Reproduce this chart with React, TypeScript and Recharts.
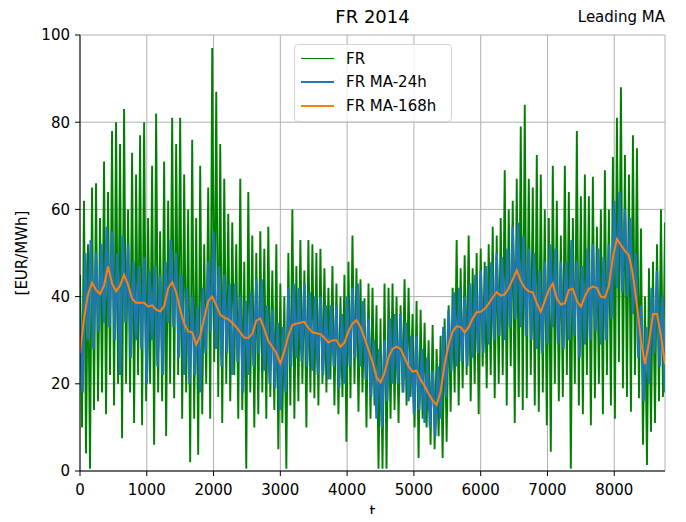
import React from 'react';
import { LineChart, Line, XAxis, YAxis, CartesianGrid } from 'recharts';

const FR_STEP = 30;
const MA24_STEP = 40;
const MA168_STEP = 60;

// FR hourly price (sampled), EUR/MWh
const frValues = [
  45, 10, 62, 4, 52, 0.5, 65, 14, 66, 16,
  58, 18, 71, 13, 64, 22, 78, 15, 80, 20,
  75, 7.5, 83, 20, 60, 18, 73, 11, 68, 22,
  77, 10.5, 80, 16, 58, 20, 70, 6, 82, 18,
  55, 16, 71, 8, 62, 20, 81, 16.7, 75, 22,
  81, 12, 68, 18, 60, 2, 76, 12, 58, 3.7,
  70, 13, 52, 20, 65, 12, 97, 25, 87, 17,
  75, 11, 67, 20, 59, 16, 57, 22, 52, 12,
  67, 14, 48, 0.5, 64, 18, 54, 10, 50, 13,
  55, 18, 51, 12, 56, 17, 46, 14, 52, 5,
  43, 11, 40, 0.5, 50, 15, 60, 12, 47, 16,
  53, 20, 46, 10, 53, 18, 52, 16.7, 50, 15,
  51, 20, 46.5, 18, 42, 21, 47, 15, 43, 13,
  40, 17, 45, 6.7, 48, 16.7, 54, 20, 46.5, 13.6,
  44, 18, 39.6, 10, 43, 12, 42, 15, 38, 0.5,
  35, 0.5, 43, 0.5, 42, 12, 43, 14, 40, 11,
  38, 18, 44, 15, 42, 17, 36, 10, 39, 3,
  37, 12, 34, 10, 30, 6, 33.5, 5, 28, 8,
  31, 3, 35, 6.7, 38, 13.6, 42, 18, 53, 15,
  46.5, 19, 49.5, 22, 54, 16, 46.5, 20, 50, 13,
  51, 24, 48, 19, 52, 22, 56, 16.7, 54, 20,
  58, 22, 69, 15, 60, 24, 62, 11, 67, 17,
  79, 14, 84, 16.7, 67, 22, 65, 15, 72.5, 13.6,
  68, 18, 60, 10.5, 58, 4.4, 70, 20, 62, 16,
  54, 17, 70, 22, 64, 0.5, 58, 20, 78, 15,
  63, 13, 68, 22, 63, 10.5, 67.5, 16.7, 56, 20,
  60, 13, 69, 22, 60, 15, 72, 12, 81, 25,
  88, 19, 72.5, 17, 68, 13.6, 77, 22, 74, 16.7,
  55.6, 6, 40, 1.4, 46.5, 9, 48, 11, 52, 16,
  60, 17, 57,
];

// FR 24h moving average (sampled)
const ma24Values = [
  36, 18, 50, 30, 53, 28, 50, 32, 52, 34,
  56, 33, 55, 30, 50, 22, 54, 34, 52, 26,
  48, 30, 47, 28, 49, 20, 46, 30, 47, 24,
  45, 22, 48, 34, 53, 33, 50, 26, 45, 22,
  42, 20, 40, 22, 38, 18, 42, 27, 48, 32,
  55, 28, 47, 24, 45, 27, 43, 22, 43, 25,
  40, 18, 39, 22, 41, 24, 44, 27, 44, 23,
  38, 20, 37, 19, 34, 14, 33, 18, 42, 24,
  43, 26, 42, 25, 43, 24, 41, 23, 40, 22,
  40, 22, 38, 21, 38, 24, 38, 19, 36, 20,
  40, 24, 42, 26, 43, 24, 39, 21, 35, 17,
  30, 12, 28, 10, 30, 16, 35, 20, 36, 20,
  36, 18, 34, 16, 31, 13, 31, 14, 28, 11,
  26, 10, 23, 8, 24, 12, 33, 17, 37, 23,
  41, 24, 42, 25, 40, 24, 43, 26, 45, 27,
  46, 27, 47, 29, 48, 30, 50, 31, 49, 30,
  51, 33, 56, 35, 57, 33, 54, 31, 51, 30,
  50, 28, 46, 27, 48, 29, 52, 33, 51, 29,
  48, 28, 48, 30, 53, 31, 48, 26, 47, 29,
  51, 30, 52, 32, 51, 29, 49, 30, 52, 35,
  62, 42, 64, 41, 60, 40, 58, 36, 50, 26,
  38, 16, 33, 20, 42, 27, 46, 24, 40, 18,
];

// FR 168h moving average (sampled)
const ma168Values = [
  27, 35, 40.5, 43.2, 41.5, 40.6, 42.5, 46.9, 43, 41.2,
  42.5, 45, 42.7, 39.5, 38.6, 38.6, 38.6, 37.7, 38, 37,
  36.6, 37.8, 41.9, 43.3, 41, 37, 33.8, 32, 31.8, 29,
  31, 35, 39, 40, 38, 35.8, 35.2, 34.8, 34, 33,
  31.8, 30.6, 30.5, 31.5, 34.5, 35, 32.5, 29.8, 28.5, 27,
  24.7, 27.5, 31, 33.5, 33.8, 34, 34.2, 32.8, 31.8, 31.6,
  31.4, 30.5, 29.5, 30, 30, 28.5, 29.5, 32, 33.8, 34.6,
  33, 30.5, 27.8, 25, 21.5, 20.3, 22.5, 26, 28, 28.5,
  28, 26, 24, 22.8, 23, 20.9, 19.5, 17.8, 16.2, 15.2,
  18.2, 24.5, 29, 32, 33.2, 33, 31.8, 33, 35, 36.4,
  36.5, 37.2, 38.4, 39.8, 41, 40.2, 40.5, 41.9, 44, 46,
  43.6, 42, 41.2, 41, 38.5, 36.5, 39, 41.5, 43, 39.5,
  38.2, 38.5, 41.5, 41.8, 39, 37.7, 40, 41.8, 42.3, 42,
  40, 39.8, 42.5, 49, 53.2, 51.8, 50.5, 49.5, 45, 38,
  30, 24.5, 29.5, 36, 36, 31, 24.5,
];

const xTicks = [0, 1000, 2000, 3000, 4000, 5000, 6000, 7000, 8000];
const yTicks = [0, 20, 40, 60, 80, 100];
const xDomain = [0, 8760];
const yDomain = [0, 100];
const titleText = 'FR 2014';
const rightTitleText = 'Leading MA';
const yLabelText = '[EUR/MWh]';
const xLabelText = 't';
const seriesNames = ['FR', 'FR MA-24h', 'FR MA-168h'];
const seriesColors = ['#008000', '#1f77b4', '#ff7f0e'];

const toSeries = (vals: number[], step: number) => vals.map((v, i) => ({ t: i * step, v }));

const frData = toSeries(frValues, FR_STEP);
const ma24Data = toSeries(ma24Values, MA24_STEP);
const ma168Data = toSeries(ma168Values, MA168_STEP);

const FONT = '"DejaVu Sans", sans-serif';

export default function App() {
  const tickStyle = { fill: '#000', fontSize: 15, fontFamily: FONT };
  return (
    <div style={{ position: 'relative', width: 670, height: 506, fontFamily: FONT, color: '#000' }}>
      <LineChart width={670} height={506} margin={{ top: 27, right: 13, bottom: 0, left: 0 }}>
        <CartesianGrid xAxisId="b" yAxisId="l" stroke="#b0b0b0" strokeWidth={1} />
        <XAxis
          xAxisId="b"
          dataKey="t"
          type="number"
          domain={xDomain}
          ticks={xTicks}
          allowDataOverflow
          height={43}
          tickSize={5}
          tickMargin={8}
          stroke="#000"
          tick={tickStyle}
          interval={0}
        />
        <XAxis
          xAxisId="top"
          orientation="top"
          dataKey="t"
          type="number"
          domain={xDomain}
          allowDataOverflow
          height={0}
          tick={false}
          tickLine={false}
          stroke="#000"
        />
        <YAxis
          yAxisId="l"
          type="number"
          domain={yDomain}
          ticks={yTicks}
          allowDataOverflow
          width={72}
          tickSize={5}
          tickMargin={5}
          stroke="#000"
          tick={tickStyle}
          interval={0}
        />
        <YAxis
          yAxisId="r"
          orientation="right"
          type="number"
          domain={yDomain}
          allowDataOverflow
          width={0}
          tick={false}
          tickLine={false}
          stroke="#000"
        />
        <Line
          xAxisId="b"
          yAxisId="l"
          data={frData}
          dataKey="v"
          type="linear"
          stroke={seriesColors[0]}
          strokeWidth={1.9}
          dot={false}
          isAnimationActive={false}
        />
        <Line
          xAxisId="b"
          yAxisId="l"
          data={ma24Data}
          dataKey="v"
          type="linear"
          stroke={seriesColors[1]}
          strokeWidth={2.4}
          dot={false}
          isAnimationActive={false}
        />
        <Line
          xAxisId="b"
          yAxisId="l"
          data={ma168Data}
          dataKey="v"
          type="linear"
          stroke={seriesColors[2]}
          strokeWidth={2}
          dot={false}
          isAnimationActive={false}
        />
      </LineChart>

      <div style={{ position: 'absolute', left: 72, top: 0, width: 585, textAlign: 'center', fontSize: 18, lineHeight: '18px' }}>
        {titleText}
      </div>
      <div style={{ position: 'absolute', left: 457, top: 0, width: 200, textAlign: 'right', fontSize: 15, lineHeight: '18px' }}>
        {rightTitleText}
      </div>
      <div
        style={{
          position: 'absolute', left: -86, top: 236, width: 200, height: 18, lineHeight: '18px',
          textAlign: 'center', fontSize: 15, transform: 'rotate(-90deg)',
        }}
      >
        {yLabelText}
      </div>
      <div style={{ position: 'absolute', left: 264.5, top: 495, width: 200, textAlign: 'center', fontSize: 15, lineHeight: '18px' }}>
        {xLabelText}
      </div>

      <div
        style={{
          position: 'absolute', left: 286, top: 36, width: 158, height: 78, boxSizing: 'border-box',
          border: '1px solid #d5d5d5', borderRadius: 4, background: 'rgba(255,255,255,0.8)',
        }}
      >
        {seriesNames.map((name, i) => (
          <div key={name} style={{ position: 'absolute', left: 0, top: 13.5 + i * 23.5 - 9, height: 18, width: '100%' }}>
            <div
              style={{
                position: 'absolute', left: 6, top: 9 - (i === 0 ? 0.5 : 1), width: 33, height: i === 0 ? 1 : 2,
                background: seriesColors[i],
              }}
            />
            <div style={{ position: 'absolute', left: 51, top: 0, fontSize: 15, lineHeight: '18px', whiteSpace: 'nowrap' }}>
              {name}
            </div>
          </div>
        ))}
      </div>
    </div>
  );
}
